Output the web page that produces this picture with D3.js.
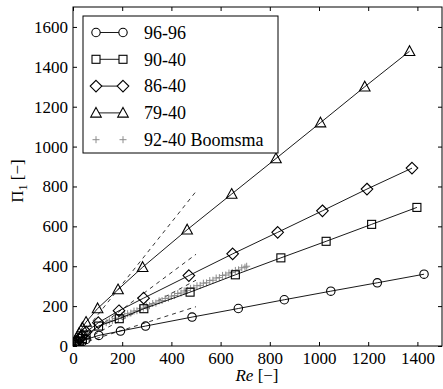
<!DOCTYPE html>
<html>
<head>
<meta charset="utf-8">
<script src="https://cdn.jsdelivr.net/npm/d3@7"></script>
<style>
  body { margin: 0; background: #fff; }
  svg text { font-family: "Liberation Serif", "Times New Roman", Tinos, "DejaVu Serif", serif; fill: #000; }
</style>
</head>
<body>
<svg id="chart" width="443" height="389"></svg>
<script>
// series: [Re, Pi1]
const s9696 = [[8, 5], [15, 9], [25, 14], [38, 22], [53, 33], [105, 53], [193, 75], [295, 100], [484, 145],
  [672, 188], [859, 232], [1048, 275], [1237, 317], [1427, 360]]
const s9040 = [[8, 9], [15, 16], [25, 25], [38, 38], [53, 55], [104, 100], [188, 137], [288, 187], [476, 270],
  [660, 357], [845, 442], [1029, 525], [1214, 610], [1398, 695]]
const s8640 = [[8, 12], [15, 22], [25, 36], [38, 52], [53, 70], [103, 117], [187, 177], [287, 240], [471, 353],
  [649, 462], [832, 570], [1014, 678], [1195, 787], [1378, 892]]
const s7940 = [[8, 22], [15, 40], [25, 64], [38, 92], [53, 120], [100, 188], [183, 283], [283, 395], [464, 583],
  [645, 762], [825, 940], [1006, 1120], [1186, 1300], [1368, 1478]]
const boomsma = [[135, 117], [148, 125], [160, 127], [172, 137], [185, 140], [197, 150], [210, 152], [222, 162],
  [235, 165], [248, 175], [260, 177], [273, 187], [286, 190], [298, 200], [311, 202], [324, 213], [337, 215],
  [350, 226], [362, 228], [375, 238], [388, 240], [400, 250], [413, 253], [426, 263], [439, 266], [452, 276],
  [465, 279], [478, 289], [491, 291], [504, 302], [517, 304], [530, 315], [543, 317], [556, 328], [569, 330],
  [582, 341], [595, 343], [608, 354], [621, 356], [634, 366], [647, 369], [660, 379], [673, 382], [686, 392],
  [699, 395], [706, 400]]
// low-Re asymptotes
const dashed = [
  [[0, 0], [500, 775]],
  [[0, 0], [500, 460]],
  [[0, 0], [500, 330]],
  [[0, 0], [500, 197]],
]
const xTicks = [0, 200, 400, 600, 800, 1000, 1200, 1400]
const yTicks = [0, 200, 400, 600, 800, 1000, 1200, 1400, 1600]
const legendLabels = ['96-96', '90-40', '86-40', '79-40', '92-40 Boomsma']

const FONT = '"Liberation Serif", "Times New Roman", Tinos, "DejaVu Serif", serif'
const margin = { left: 73, top: 7, right: 1, bottom: 43 }
const width = 443, height = 389
const innerW = width - margin.left - margin.right
const innerH = height - margin.top - margin.bottom

const svg = d3.select('#chart')
const g = svg.append('g').attr('transform', `translate(${margin.left},${margin.top})`)

const x = d3.scaleLinear().domain([0, 1500]).range([0, innerW])
const y = d3.scaleLinear().domain([0, 1700]).range([innerH, 0])

g.append('clipPath').attr('id', 'clip')
  .append('rect').attr('width', innerW).attr('height', innerH)

const plot = g.append('g').attr('clip-path', 'url(#clip)')
const line = d3.line().x(d => x(d[0])).y(d => y(d[1]))

// dashed asymptotes
plot.selectAll('.dash').data(dashed).join('path')
  .attr('d', line).attr('fill', 'none').attr('stroke', '#000')
  .attr('stroke-width', 0.8).attr('stroke-dasharray', '4,4')

// markers
const markers = {
  circle: (sel) => sel.append('circle').attr('r', 4.2),
  square: (sel) => sel.append('rect').attr('x', -4).attr('y', -4).attr('width', 8).attr('height', 8),
  diamond: (sel) => sel.append('path').attr('d', 'M0,-5.8L5.8,0L0,5.8L-5.8,0Z'),
  triangle: (sel) => sel.append('path').attr('d', 'M0,-5.5L5.3,4.2L-5.3,4.2Z'),
}
const series = [
  { data: s9696, m: 'circle' },
  { data: s9040, m: 'square' },
  { data: s8640, m: 'diamond' },
  { data: s7940, m: 'triangle' },
]

// gray plus data
function plus (sel, s) {
  sel.append('path').attr('d', `M${-s},0H${s}M0,${-s}V${s}`)
    .attr('stroke', '#8c8c8c').attr('stroke-width', 1).attr('fill', 'none')
}
plot.append('g').selectAll('g').data(boomsma).join('g')
  .attr('transform', d => `translate(${x(d[0])},${y(d[1])})`)
  .each(function () { plus(d3.select(this), 3.5) })

series.forEach(s => {
  plot.append('path').datum(s.data).attr('d', line)
    .attr('fill', 'none').attr('stroke', '#000').attr('stroke-width', 0.9)
  plot.append('g').selectAll('g').data(s.data).join('g')
    .attr('transform', d => `translate(${x(d[0])},${y(d[1])})`)
    .each(function () {
      markers[s.m](d3.select(this)).attr('fill', 'none').attr('stroke', '#000').attr('stroke-width', 1.1)
    })
})

// axes, ticks inside on all four sides
const fs = 17
const tickLen = 4
const fmt = d3.format('d')
const axB = d3.axisBottom(x).tickValues(xTicks).tickSize(-tickLen).tickPadding(6).tickFormat(fmt)
const axT = d3.axisTop(x).tickValues(xTicks).tickSize(-tickLen).tickFormat('')
const axL = d3.axisLeft(y).tickValues(yTicks).tickSize(-tickLen).tickPadding(5).tickFormat(fmt)
const axR = d3.axisRight(y).tickValues(yTicks).tickSize(-tickLen).tickFormat('')

function style (sel) {
  sel.attr('font-family', FONT).attr('font-size', fs)
  sel.select('.domain').remove()
  sel.selectAll('line').attr('stroke', '#000')
  sel.selectAll('text').attr('fill', '#000')
}
g.append('g').attr('transform', `translate(0,${innerH})`).call(axB).call(style)
g.append('g').call(axT).call(style)
g.append('g').call(axL).call(style)
g.append('g').attr('transform', `translate(${innerW},0)`).call(axR).call(style)

g.append('rect').attr('width', innerW).attr('height', innerH)
  .attr('fill', 'none').attr('stroke', '#000').attr('stroke-width', 1)

// legend
const lg = svg.append('g').attr('transform', 'translate(83,16)')
lg.append('rect').attr('width', 195).attr('height', 137)
  .attr('fill', '#fff').attr('stroke', '#000').attr('stroke-width', 1)
legendLabels.forEach((lab, i) => {
  const yy = 16.5 + i * 26.8
  const row = lg.append('g').attr('transform', `translate(0,${yy})`)
  if (i < 4) {
    row.append('line').attr('x1', 13).attr('x2', 40).attr('stroke', '#000').attr('stroke-width', 0.9)
    ;[13, 40].forEach(px => {
      const mg = row.append('g').attr('transform', `translate(${px},0)`)
      markers[series[i].m](mg).attr('fill', '#fff').attr('stroke', '#000').attr('stroke-width', 1.1)
    })
  } else {
    ;[13, 40].forEach(px => plus(row.append('g').attr('transform', `translate(${px},0)`), 3.5))
  }
  row.append('text').attr('x', 61).attr('dy', '0.35em').attr('font-size', 18).text(lab)
})

// axis titles
const xl = svg.append('text').attr('x', 257).attr('y', 381).attr('text-anchor', 'middle').attr('font-size', fs)
xl.append('tspan').attr('font-style', 'italic').text('Re')
xl.append('tspan').text(' [−]')

const yl = svg.append('text').attr('transform', 'translate(23,181) rotate(-90)')
  .attr('text-anchor', 'middle').attr('font-size', fs)
yl.append('tspan').text('Π')
yl.append('tspan').attr('font-size', 12).attr('dy', 4).text('1')
yl.append('tspan').attr('dy', -4).text(' [−]')
</script>
</body>
</html>
